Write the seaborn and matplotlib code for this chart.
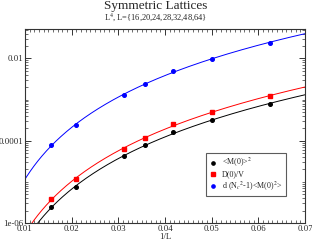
import numpy as np
import pandas as pd
import matplotlib
matplotlib.use("Agg")
import matplotlib.pyplot as plt
import matplotlib.ticker as mticker
import seaborn as sns

# ---- data ----
L_sizes = [16, 20, 24, 28, 32, 48, 64]
M0_sq = [7.9e-4, 3.16e-4, 1.6e-4, 7.7e-5, 4.2e-5, 7.7e-6, 2.4e-6]
D0_over_V = [1.24e-3, 4.87e-4, 2.5e-4, 1.17e-4, 6.4e-5, 1.17e-5, 3.8e-6]
dNc_M0sq = [0.0243, 0.0098, 0.00494, 0.0024, 0.0013, 2.43e-4, 7.7e-5]
series_labels = [r"<M(0)>$^2$", "D(0)/V", r"d (N$_c$$^2$-1)<M(0)$^2$>"]
x_ticks = [0.01, 0.02, 0.03, 0.04, 0.05, 0.06, 0.07]
y_ticks = [1e-6, 1e-4, 1e-2]
y_tick_labels = ["1e-06", "0.0001", "0.01"]

sns.set_style("ticks")
plt.rcParams["font.family"] = ["Liberation Serif", "DejaVu Serif"]
plt.rcParams["mathtext.fontset"] = "stix"

invL = 1.0 / np.array(L_sizes, dtype=float)
colors = ["black", "red", "blue"]
markers = ["o", "s", "o"]
values = [M0_sq, D0_over_V, dNc_M0sq]

fig = plt.figure(figsize=(3.12, 2.42), dpi=100)
ax = fig.add_axes([0.080, 0.0785, 0.8976, 0.8015])

xgrid = np.linspace(0.0095, 0.0705, 300)
for vals, col, mk, lab in zip(values, colors, markers, series_labels):
    v = np.array(vals)
    p = np.polyfit(np.log10(invL), np.log10(v), 1)
    fit = 10 ** np.polyval(p, np.log10(xgrid))
    sns.lineplot(x=xgrid, y=fit, ax=ax, color=col, lw=0.7, legend=False)
    ax.plot(invL, v, linestyle="none", marker=mk, color=col, ms=2.6,
            mec=col, label=lab)

ax.set_yscale("log")
ax.set_xlim(0.01, 0.07)
ax.set_ylim(1e-6, 0.052)
ax.set_xticks(x_ticks)
ax.xaxis.set_major_formatter(mticker.FuncFormatter(lambda v, p: f"{v:g}"))
ax.xaxis.set_minor_locator(mticker.MultipleLocator(0.001))
ax.set_yticks(y_ticks)
ax.set_yticklabels(y_tick_labels)
ax.yaxis.set_minor_locator(mticker.LogLocator(base=10, subs=np.arange(1, 10), numticks=50))
ax.yaxis.set_minor_formatter(mticker.NullFormatter())
ax.tick_params(which="both", direction="in", top=True, right=True, labelsize=6.3,
               pad=1.5, color="#333333")
ax.tick_params(which="major", length=4, width=0.7)
ax.tick_params(which="minor", length=2, width=0.5)
for s in ax.spines.values():
    s.set_linewidth(0.8)
    s.set_color("#333333")

ax.set_xlabel("1/L", fontsize=6.3, labelpad=0)
fig.text(0.5, 0.974, "Symmetric Lattices", ha="center", va="center", fontsize=9.5)
fig.text(0.5, 0.928, "L$^4$, L={16,20,24,28,32,48,64}", ha="center", va="center", fontsize=6)

leg = ax.legend(loc="upper left", bbox_to_anchor=(0.646, 0.361), fontsize=5.8,
                frameon=True, fancybox=False, edgecolor="#333333",
                handlelength=1.0, handletextpad=0.6, borderpad=0.4,
                labelspacing=0.15, markerscale=0.9, borderaxespad=0)
leg.get_frame().set_linewidth(0.8)

fig.savefig("out.png", dpi=100)
